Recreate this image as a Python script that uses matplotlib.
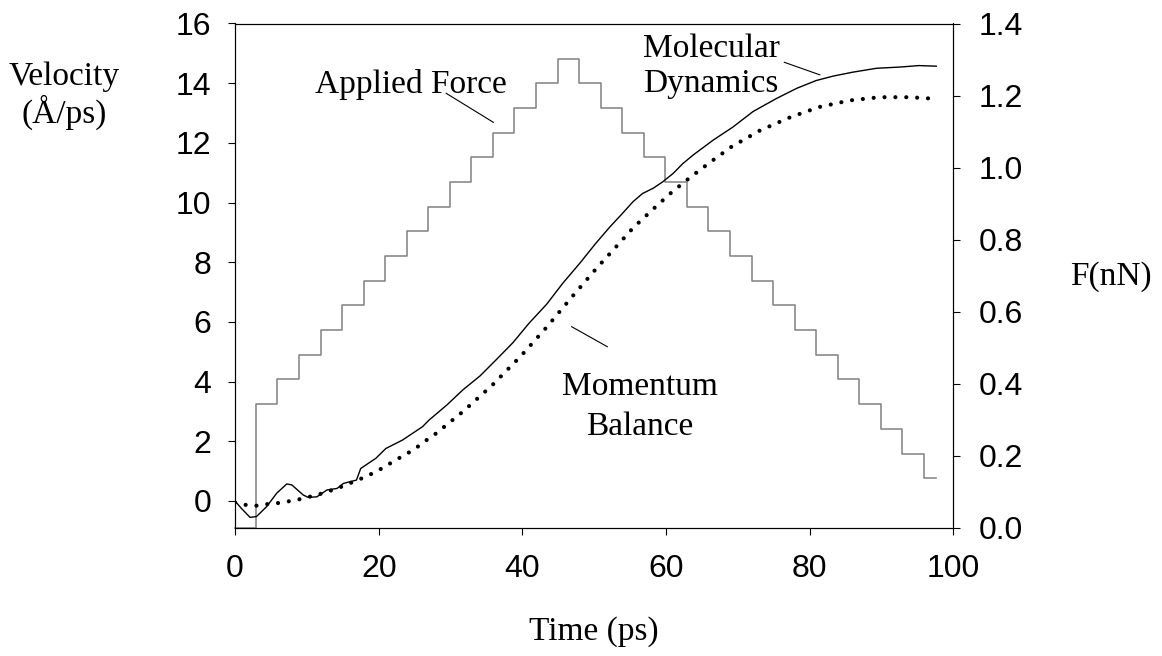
import matplotlib
matplotlib.use("Agg")
import matplotlib.pyplot as plt

# data
# molecular dynamics velocity (A/ps)
md_time = [0, 0.9, 2.1, 3.0, 4.4, 5.8, 7.2, 7.9, 9.5, 10.2, 11.4, 12.8, 14.2, 15.1,
           16.9, 17.5, 19.6, 21.0, 23.3, 26.1, 27.0, 29.5, 31.7, 34.1, 36.3, 38.7,
           40.9, 43.4, 45.6, 48.0, 50.2, 52.2, 53.9, 55.4, 56.7, 58.2, 59.5, 61.0,
           62.3, 63.8, 66.6, 69.3, 72.1, 75.3, 78.2, 80.9, 83.3, 86.0, 89.3, 92.5,
           95.2, 97.6]
md_vel = [0.0, -0.25, -0.55, -0.52, -0.19, 0.26, 0.57, 0.54, 0.20, 0.12, 0.14, 0.37,
          0.42, 0.59, 0.70, 1.09, 1.43, 1.76, 2.04, 2.49, 2.71, 3.22, 3.72, 4.19,
          4.72, 5.31, 5.95, 6.60, 7.29, 7.97, 8.63, 9.19, 9.63, 10.03, 10.30, 10.48,
          10.69, 10.98, 11.30, 11.60, 12.10, 12.53, 13.05, 13.48, 13.83, 14.09, 14.24,
          14.37, 14.50, 14.54, 14.59, 14.57]

# momentum balance velocity (A/ps)
mb_time = [0, 1.5, 2.9, 4.3, 5.7, 7.0, 8.5, 9.8, 11.2, 12.5, 13.9, 15.3, 16.7, 18.1,
           19.5, 20.8, 22.2, 23.6, 25.0, 26.3, 27.7, 31.7, 35.8, 39.8, 43.4, 46.9,
           50.4, 52.9, 55.4, 58.1, 60.8, 63.6, 66.3, 69.1, 73.1, 77.3, 81.3, 85.5,
           89.7, 93.9, 97.3]
mb_vel = [-0.05, -0.13, -0.16, -0.11, -0.08, -0.03, 0.03, 0.11, 0.19, 0.28, 0.40, 0.52,
          0.67, 0.80, 0.97, 1.14, 1.35, 1.54, 1.74, 1.98, 2.21, 2.99, 3.88, 4.86,
          5.83, 6.84, 7.82, 8.48, 9.15, 9.76, 10.35, 10.89, 11.38, 11.87, 12.42,
          12.86, 13.20, 13.42, 13.53, 13.53, 13.48]

# applied force (nN), step starts
force_time = [0, 2.9, 5.9, 8.9, 11.9, 14.9, 17.9, 20.9, 23.9, 26.9, 29.9, 32.9, 35.9,
              38.9, 41.9, 44.9, 47.9, 50.9, 53.9, 56.9, 59.9, 62.9, 65.9, 68.9, 71.9,
              74.9, 77.9, 80.9, 83.9, 86.9, 89.9, 92.9, 95.9, 97.5]
force_val = [0.0, 0.343, 0.412, 0.480, 0.549, 0.617, 0.686, 0.754, 0.823, 0.891, 0.960,
             1.028, 1.097, 1.165, 1.234, 1.302, 1.234, 1.165, 1.097, 1.028, 0.960,
             0.891, 0.823, 0.754, 0.686, 0.617, 0.549, 0.480, 0.412, 0.343, 0.274,
             0.206, 0.137, 0.137]

vel_ticks = [0, 2, 4, 6, 8, 10, 12, 14, 16]
force_ticks = [0.0, 0.2, 0.4, 0.6, 0.8, 1.0, 1.2, 1.4]
time_ticks = [0, 20, 40, 60, 80, 100]

W, H = 1162, 656
serif = "Liberation Serif"
sans = "Liberation Sans"

fig = plt.figure(figsize=(W / 100, H / 100), dpi=100)
ax = fig.add_axes([235 / W, 1 - 527.7 / H, (953.5 - 235) / W, (527.7 - 23.5) / H])
ax2 = ax.twinx()

# force on the back axis
ax2.plot(force_time, force_val, drawstyle="steps-post", color="#808080", lw=1.1,
         clip_on=False)
ax2.set_ylim(0, 1.4)
ax2.set_yticks(force_ticks)
ax2.set_yticklabels(["%.1f" % f for f in force_ticks])

ax.set_zorder(ax2.get_zorder() + 1)
ax.patch.set_visible(False)

ax.plot(md_time, md_vel, color="black", lw=1.0)
ax.plot(mb_time, mb_vel, color="black", lw=3.0, linestyle=(0, (0.01, 2.6)),
        dash_capstyle="round")

ax.set_xlim(0, 100)
ax.set_ylim(-0.895, 16)
ax.set_xticks(time_ticks)
ax.set_yticks(vel_ticks)

for a in (ax, ax2):
    for s in a.spines.values():
        s.set_linewidth(0.8)
    a.tick_params(direction="out", length=5, width=0.8, labelsize=23)
    for lab in a.get_xticklabels() + a.get_yticklabels():
        lab.set_fontfamily(sans)
ax.tick_params(axis="y", pad=12)
ax.tick_params(axis="x", pad=14)
ax2.tick_params(axis="y", pad=13)

# annotations
ax.text(11.1, 13.68, "Applied Force", family=serif, fontsize=24)
ax.plot([29.4, 35.95], [13.66, 12.69], color="black", lw=0.8)

ax.text(56.8, 14.89, "Molecular", family=serif, fontsize=24)
ax.text(56.8, 13.72, "Dynamics", family=serif, fontsize=24)
ax.plot([76.45, 81.4], [14.70, 14.28], color="black", lw=0.8)

ax.text(56.3, 3.55, "Momentum", family=serif, fontsize=24, ha="center")
ax.text(56.3, 2.21, "Balance", family=serif, fontsize=24, ha="center")
ax.plot([46.86, 51.82], [5.84, 5.17], color="black", lw=0.8)

# axis titles
fig.text(64 / W, 1 - 85 / H, "Velocity", family=serif, fontsize=24, ha="center")
fig.text(64 / W, 1 - 123 / H, "(Å/ps)", family=serif, fontsize=24, ha="center")
fig.text(1111 / W, 1 - 285 / H, "F(nN)", family=serif, fontsize=24, ha="center")
fig.text(594 / W, 1 - 640 / H, "Time (ps)", family=serif, fontsize=24, ha="center")

fig.savefig("out.png", dpi=100)
